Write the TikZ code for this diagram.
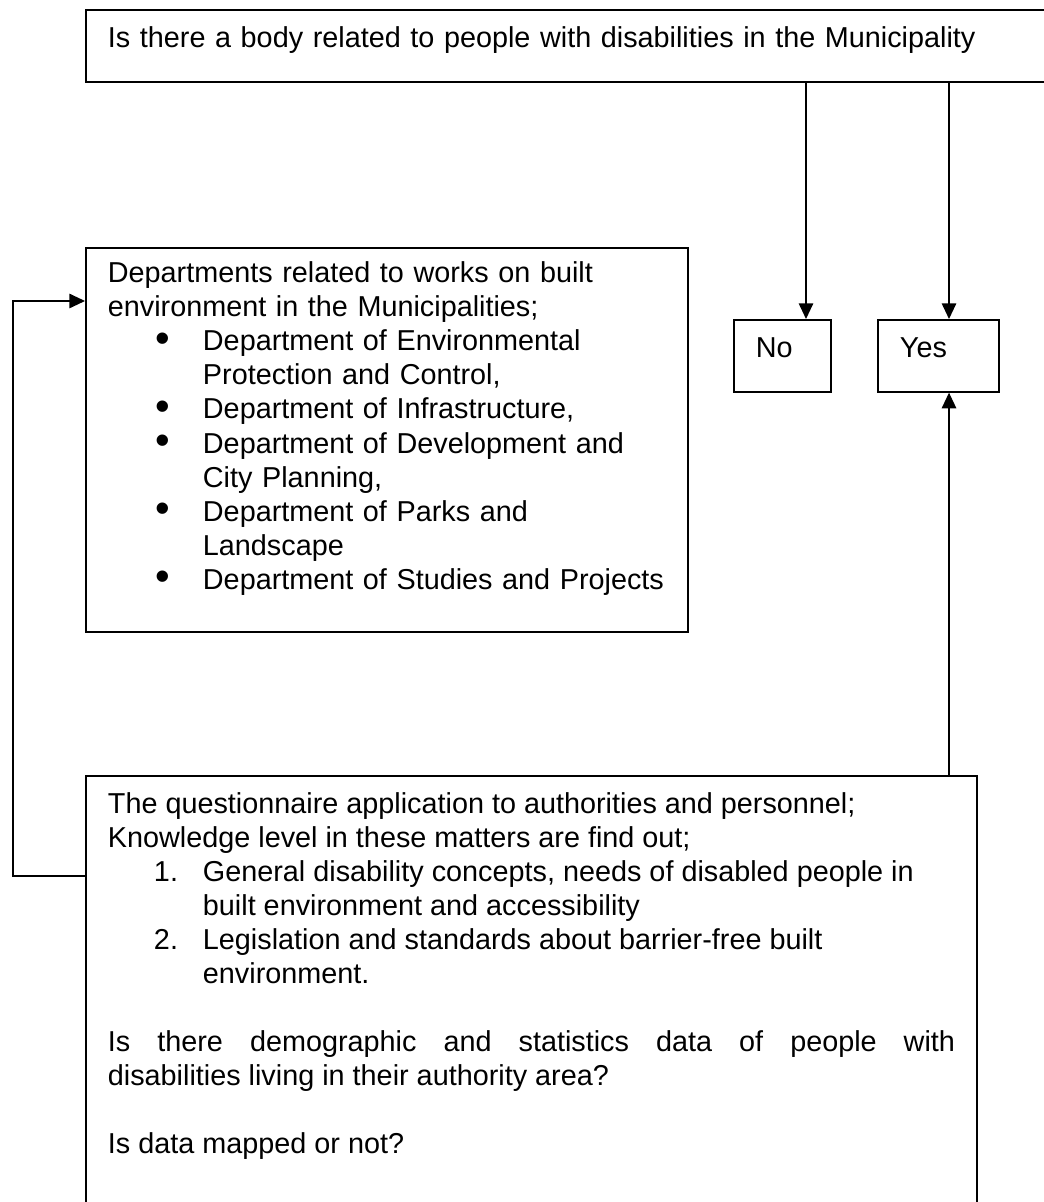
\documentclass[tikz,border=0pt]{standalone}
\usepackage{fontspec}
\setmainfont{Liberation Sans}
\usetikzlibrary{arrows.meta}
\usetikzlibrary{positioning}

\newcommand{\dotitem}{\hspace*{20pt}\makebox[19.6pt][l]{\smash{\raisebox{-0.6pt}{\scalebox{1.45}{\textbullet}}}}}
\newcommand{\numitem}[1]{\hspace*{19.2pt}\makebox[20.4pt][l]{#1}}
\newcommand{\itemcont}{\hspace*{39.6pt}}

\tikzset{
  flowbox/.style={draw=black, line width=0.7pt, anchor=north west, align=left,
    inner xsep=9.2pt, inner ysep=0pt, text height=15.5pt,
    font=\fontsize{12pt}{14.2pt}\selectfont},
  flowarrow/.style={-{Triangle[length=6.5pt,width=6pt]}, line width=0.6pt}
}

\begin{document}
\begin{tikzpicture}[x=0.4167pt,y=-0.4167pt]
    \useasboundingbox (0,0) rectangle (1043,1202);
    \node[flowbox, text width=392pt, text depth=14.5pt] (body) at (85,9) {Is there a body related to people with disabilities in the Municipality};
    \node[flowbox, text width=22pt, text depth=14.5pt] (no) at (733,319) {No};
    \node[flowbox, text width=32pt, text depth=14.5pt] (yes) at (877,319) {Yes};
    \node[flowbox, text width=232.4pt, text height=14.5pt, text depth=145.5pt] (dept) at (85,247) {Departments related to works on built\\
      environment in the Municipalities;\\
      \dotitem Department of Environmental\\
      \itemcont Protection and Control,\\
      \dotitem Department of Infrastructure,\\
      \dotitem Department of Development and\\
      \itemcont City Planning,\\
      \dotitem Department of Parks and\\
      \itemcont Landscape\\
      \dotitem Department of Studies and Projects};
    \node[flowbox, align=justify, text width=353pt, text depth=174pt] (quest) at (85,775) {The questionnaire application to authorities and personnel;\newline
      Knowledge level in these matters are find out;\newline
      \numitem{1.}General disability concepts, needs of disabled people in\newline
      \itemcont built environment and accessibility\newline
      \numitem{2.}Legislation and standards about barrier-free built\newline
      \itemcont environment.\newline
      \mbox{}\newline
      Is there demographic and statistics data of people with\linebreak
      disabilities living in their authority area?\newline
      \mbox{}\newline
      Is data mapped or not?};
    % where the arrows run
    \coordinate (nox) at (806,0);
    \coordinate (yesx) at (949,0);
    \coordinate (loopb) at (13,876);
    \coordinate (loopt) at (13,301);
    \draw[flowarrow] (body.south -| nox) -- (no.north -| nox);
    \draw[flowarrow] (body.south -| yesx) -- (yes.north -| yesx);
    \draw[flowarrow] (quest.north -| yesx) -- (yes.south -| yesx);
    \draw[flowarrow] (quest.west |- loopb) -- (loopb) -- (loopt) -- (dept.west |- loopt);
\end{tikzpicture}
\end{document}
